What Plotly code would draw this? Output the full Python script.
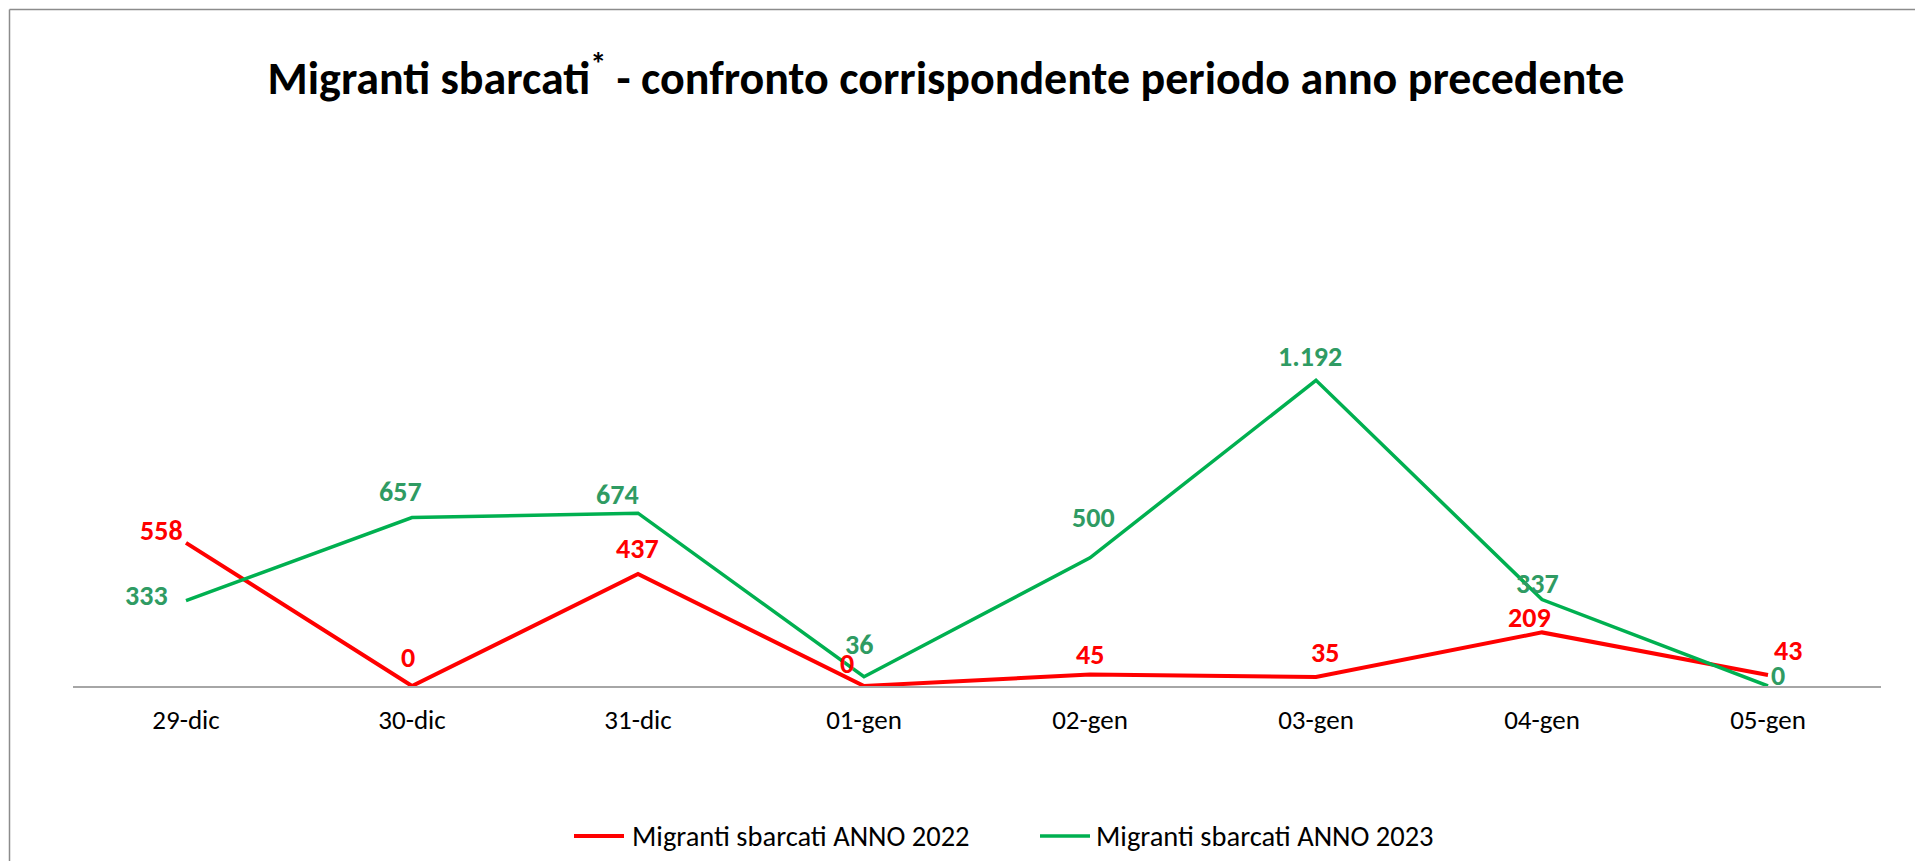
import plotly.graph_objects as go

# ---- data ----
categories = ["29-dic", "30-dic", "31-dic", "01-gen", "02-gen", "03-gen", "04-gen", "05-gen"]
values_2022 = [558, 0, 437, 0, 45, 35, 209, 43]
values_2023 = [333, 657, 674, 36, 500, 1192, 337, 0]
labels_2022 = ["558", "0", "437", "0", "45", "35", "209", "43"]
labels_2023 = ["333", "657", "674", "36", "500", "1.192", "337", "0"]
name_2022 = "Migranti sbarcati ANNO 2022"
name_2023 = "Migranti sbarcati ANNO 2023"
title_text = "<b>Migranti sbarcati<sup>*</sup> - confronto corrispondente periodo anno precedente</b>"

# ---- layout constants (page pixels; the page body has an 8px margin) ----
OFF = 8
W, H = 1923 - OFF, 861 - OFF
PLOT_LEFT, PLOT_RIGHT, PLOT_TOP, PLOT_BOTTOM = 73, 1881, 327, 686  # page coords
L = PLOT_LEFT - OFF
T = PLOT_TOP - OFF
R = W - (PLOT_RIGHT - OFF)
B = H - (PLOT_BOTTOM - OFF)
PW, PH = W - L - R, H - T - B
FONT = "Carlito, Calibri, Lato, sans-serif"
RED = "#FF0000"
GREEN = "#00B050"
GREEN_LBL = "#2F9B63"

# label offsets (dx, dy) in px relative to point
off_2022 = [(-25, -10), (-4, -27), (-1, -23), (-17, -21), (0, -18), (9, -23), (-13, -13), (20, -22)]
off_2023 = [(-40, -3), (-12, -24), (-21, -17), (-5, -30), (3, -38), (-6, -22), (-5, -14), (10, -9)]

fig = go.Figure()
fig.add_trace(go.Scatter(x=categories, y=values_2022, mode="lines", name=name_2022,
                         line=dict(color=RED, width=4), hoverinfo="skip", showlegend=False))
fig.add_trace(go.Scatter(x=categories, y=values_2023, mode="lines", name=name_2023,
                         line=dict(color=GREEN, width=3.5), hoverinfo="skip", showlegend=False))

annotations = []
for cat, v, lab, (dx, dy) in zip(categories, values_2022, labels_2022, off_2022):
    annotations.append(dict(x=cat, y=v, text=f"<b>{lab}</b>", showarrow=False,
                            xshift=dx, yshift=-dy + 2,
                            font=dict(family=FONT, size=28, color=RED)))
for cat, v, lab, (dx, dy) in zip(categories, values_2023, labels_2023, off_2023):
    annotations.append(dict(x=cat, y=v, text=f"<b>{lab}</b>", showarrow=False,
                            xshift=dx, yshift=-dy + 2,
                            font=dict(family=FONT, size=28, color=GREEN_LBL)))


def px_x(p):
    """page x pixel -> paper coordinate"""
    return (p - OFF - L) / PW


def px_y(p):
    """page y pixel -> paper coordinate"""
    return (H - B - (p - OFF)) / PH


# manual legend (line sample + text), built from the series names/colours
legend_y = px_y(836)
legend_items = [(name_2022, RED, 4, 574, 624, 630), (name_2023, GREEN, 3.5, 1040, 1090, 1094)]
shapes = []
for name, col, wid, lx0, lx1, tx in legend_items:
    shapes.append(dict(type="line", xref="paper", yref="paper", x0=px_x(lx0), x1=px_x(lx1),
                       y0=legend_y, y1=legend_y, line=dict(color=col, width=wid)))
    annotations.append(dict(xref="paper", yref="paper", x=px_x(tx), y=legend_y, text=name,
                            showarrow=False, xanchor="left", yanchor="middle",
                            font=dict(family=FONT, size=28.5, color="black")))

border_color = "#8C8C8C"
shapes += [
    dict(type="line", xref="paper", yref="paper", x0=px_x(9.5), x1=px_x(1930),
         y0=px_y(9.5), y1=px_y(9.5), line=dict(color=border_color, width=1.5)),
    dict(type="line", xref="paper", yref="paper", x0=px_x(9.5), x1=px_x(9.5),
         y0=px_y(9.5), y1=px_y(870), line=dict(color=border_color, width=1.5)),
]

fig.update_layout(
    width=W, height=H,
    margin=dict(l=L, r=R, t=T, b=B, autoexpand=False),
    paper_bgcolor="white", plot_bgcolor="white",
    title=dict(text=title_text, x=(946 - OFF) / W, xanchor="center", xref="container",
               y=1 - (78 - OFF) / H, yanchor="middle", yref="container",
               font=dict(family=FONT, size=46, color="black")),
    xaxis=dict(showgrid=False, zeroline=False, showline=True, linecolor="#A6A6A6", linewidth=1.5,
               ticks="", tickfont=dict(family=FONT, size=27, color="black"),
               ticklabelstandoff=9,
               range=[-0.5, len(categories) - 0.5], fixedrange=True),
    yaxis=dict(showgrid=False, zeroline=False, showline=False, showticklabels=False,
               range=[0, 1400], fixedrange=True),
    showlegend=False,
    annotations=annotations,
    shapes=shapes,
)

fig.write_html("out.html")
